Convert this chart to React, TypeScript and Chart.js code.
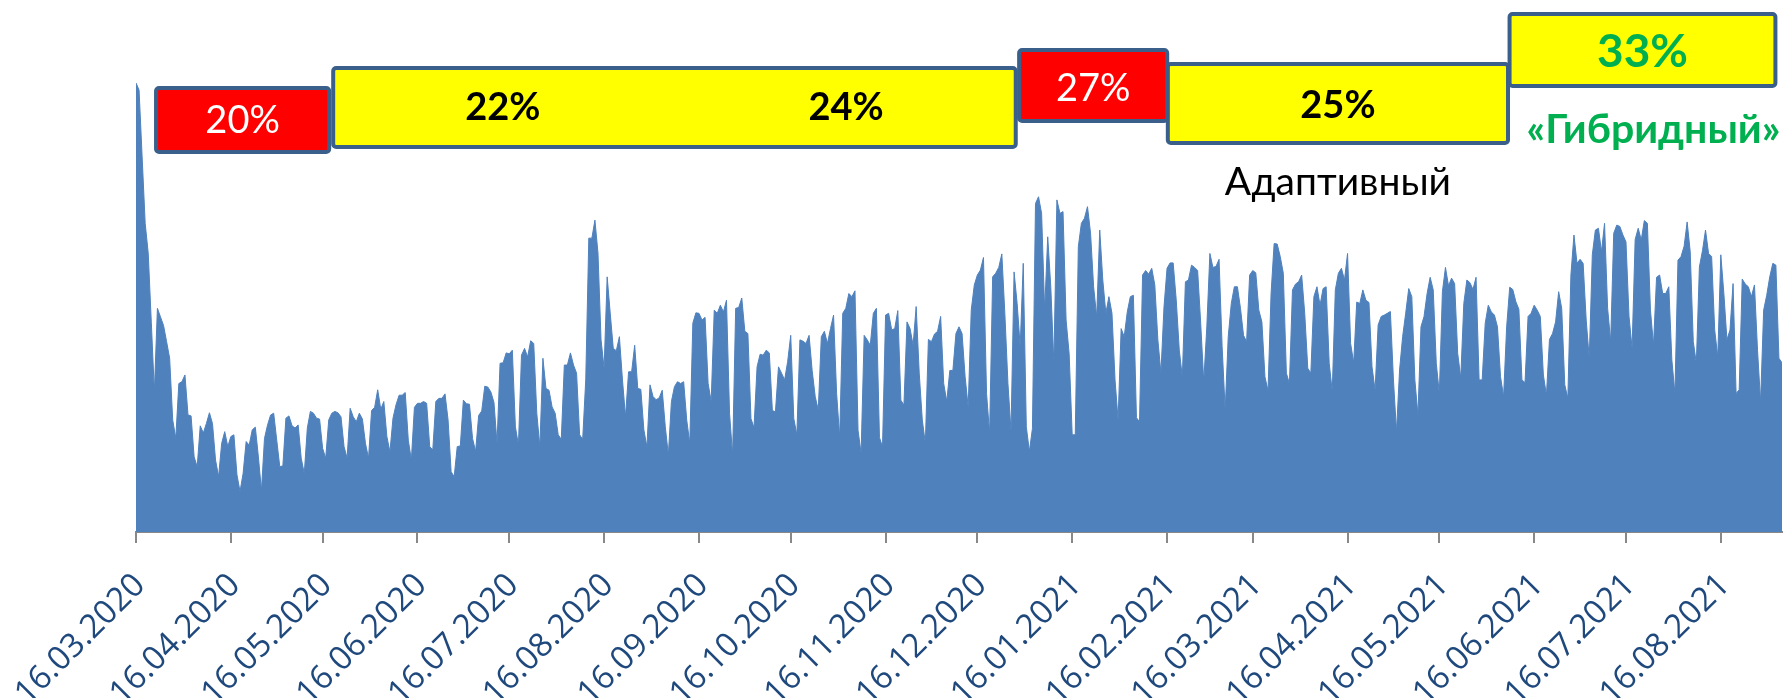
import { useEffect, useRef } from 'react';
import { Chart, registerables } from 'chart.js';

Chart.register(...registerables);

// Daily values, day 0 = 16.03.2020 (Monday); one row per week (Mon..Sun)
const dailyValues: number[] = [
  99.8, 98.2, 83.4, 68.6, 61.9, 46.6, 31.2,
  49.7, 47.8, 45.9, 42.3, 38.6, 24.9, 20.8,
  33.0, 33.4, 34.9, 26.0, 25.8, 16.7, 14.5,
  23.6, 22.0, 24.1, 26.5, 24.1, 16.0, 12.3,
  19.7, 22.3, 19.0, 21.2, 21.6, 12.7, 9.0,
  13.0, 20.1, 19.3, 22.7, 23.3, 16.7, 9.2,
  20.8, 23.8, 26.0, 26.4, 20.4, 14.5, 14.7,
  25.3, 25.8, 23.6, 23.1, 23.8, 16.4, 13.0,
  23.1, 26.8, 26.4, 25.3, 25.1, 18.6, 16.4,
  24.9, 26.4, 26.8, 26.5, 25.6, 19.0, 16.4,
  27.5, 25.6, 24.5, 26.4, 25.1, 19.7, 16.4,
  27.0, 27.7, 31.6, 27.3, 29.0, 21.2, 17.8,
  25.3, 28.3, 30.4, 30.4, 31.0, 20.4, 16.0,
  27.7, 28.6, 28.6, 29.0, 28.6, 19.0, 18.2,
  29.0, 29.7, 29.7, 30.7, 24.9, 13.4, 12.3,
  19.0, 19.1, 29.3, 28.5, 28.4, 20.8, 17.9,
  25.9, 26.9, 32.4, 32.2, 31.1, 28.8, 19.7,
  37.5, 37.6, 39.8, 39.6, 40.4, 23.4, 19.3,
  39.3, 40.8, 38.9, 42.5, 41.9, 26.4, 18.9,
  38.6, 31.9, 31.5, 27.8, 26.4, 21.6, 20.6,
  37.1, 37.1, 39.8, 37.1, 35.3, 21.6, 20.6,
  33.8, 65.3, 65.3, 69.3, 62.0, 42.7, 36.4,
  56.7, 48.6, 40.8, 40.3, 43.4, 33.8, 25.6,
  35.6, 35.6, 41.5, 31.9, 31.7, 22.7, 18.9,
  32.7, 30.1, 29.4, 29.8, 31.5, 23.4, 17.1,
  29.0, 32.3, 33.4, 33.0, 33.4, 24.9, 19.7,
  46.4, 48.7, 48.6, 47.1, 47.7, 33.0, 29.0,
  49.3, 48.6, 50.4, 48.9, 51.5, 26.4, 17.1,
  49.7, 49.9, 52.0, 44.6, 44.1, 25.2, 23.2,
  36.7, 39.5, 39.3, 40.4, 39.8, 27.0, 26.7,
  36.7, 35.3, 33.8, 37.9, 43.7, 25.2, 21.6,
  42.7, 42.4, 41.9, 43.7, 35.9, 30.1, 27.1,
  43.4, 44.6, 41.9, 45.2, 48.2, 30.8, 21.0,
  48.6, 49.7, 53.0, 52.3, 53.6, 22.6, 17.5,
  43.7, 42.7, 41.5, 48.6, 49.7, 21.0, 18.9,
  48.2, 48.6, 44.9, 45.2, 49.2, 29.3, 28.2,
  46.7, 45.2, 41.5, 50.1, 35.3, 24.9, 19.7,
  42.8, 42.3, 44.0, 44.6, 47.9, 33.0, 29.0,
  35.9, 35.9, 44.1, 45.6, 44.1, 34.5, 27.8,
  49.3, 54.9, 57.1, 58.2, 61.0, 30.8, 21.9,
  56.7, 57.5, 58.8, 61.8, 48.3, 33.0, 22.4,
  57.8, 50.8, 41.2, 59.7, 23.4, 17.9, 23.0,
  73.0, 74.5, 70.8, 49.3, 65.6, 54.5, 37.5,
  73.8, 70.8, 71.2, 47.1, 39.6, 21.6, 21.6,
  63.4, 68.6, 69.7, 72.3, 66.4, 54.5, 47.8,
  67.1, 56.0, 48.6, 52.3, 48.6, 33.8, 24.9,
  45.2, 43.4, 48.9, 52.3, 52.6, 25.4, 24.5,
  57.1, 58.1, 57.3, 58.6, 54.9, 42.7, 35.3,
  50.0, 58.6, 59.8, 59.8, 51.6, 40.4, 34.4,
  55.6, 56.0, 59.3, 58.8, 58.1, 46.4, 33.4,
  45.6, 61.9, 58.8, 59.0, 60.6, 41.2, 27.1,
  43.4, 50.8, 54.5, 54.5, 49.7, 43.7, 42.3,
  57.1, 58.1, 57.6, 49.3, 46.7, 34.5, 31.4,
  53.0, 64.1, 64.0, 61.2, 57.5, 35.3, 33.0,
  53.8, 55.1, 55.6, 57.1, 48.6, 36.4, 35.3,
  52.3, 54.5, 50.4, 54.1, 54.5, 37.5, 31.2,
  53.8, 57.5, 58.6, 56.0, 61.9, 41.9, 37.6,
  51.1, 50.8, 53.8, 51.5, 51.0, 36.7, 31.5,
  46.0, 47.9, 48.2, 48.6, 49.0, 33.8, 22.3,
  36.0, 43.4, 48.6, 54.1, 52.3, 33.8, 26.0,
  45.6, 47.9, 53.0, 56.6, 53.8, 37.5, 30.8,
  53.4, 58.8, 54.7, 56.4, 55.2, 39.7, 34.2,
  50.8, 56.0, 55.4, 53.9, 56.6, 33.8, 33.8,
  46.4, 50.4, 48.9, 48.2, 45.6, 34.5, 30.1,
  45.6, 54.4, 53.9, 51.2, 49.5, 33.8, 33.2,
  47.9, 48.6, 50.4, 49.3, 47.9, 34.9, 30.4,
  42.8, 44.1, 46.7, 53.4, 49.7, 32.7, 29.7,
  57.1, 66.0, 59.7, 60.6, 59.7, 47.1, 38.6,
  61.6, 67.1, 67.5, 62.3, 68.6, 49.7, 42.3,
  66.4, 68.2, 67.9, 66.0, 64.5, 47.9, 40.8,
  65.0, 67.5, 64.9, 69.2, 68.6, 49.3, 41.5,
  56.6, 57.1, 53.0, 53.0, 54.5, 38.2, 30.8,
  60.4, 61.2, 63.5, 68.9, 62.3, 42.3, 37.5,
  58.9, 62.5, 67.1, 61.9, 61.2, 44.9, 38.9,
  61.6, 53.0, 42.7, 44.9, 55.2, 30.8, 31.6,
  56.2, 55.1, 54.5, 52.3, 54.9, 40.4, 28.9,
  49.3, 52.6, 56.7, 59.7, 59.3, 38.6, 37.6,
];

// Monthly ticks (day index) and their labels
const tickDays = [0, 31, 61, 92, 122, 153, 184, 214, 245, 275, 306, 337, 365, 396, 426, 457, 487, 518];
const tickLabels = [
  '16.03.2020', '16.04.2020', '16.05.2020', '16.06.2020', '16.07.2020', '16.08.2020',
  '16.09.2020', '16.10.2020', '16.11.2020', '16.12.2020', '16.01.2021', '16.02.2021',
  '16.03.2021', '16.04.2021', '16.05.2021', '16.06.2021', '16.07.2021', '16.08.2021',
];

// Phase boxes (day ranges) and the shares written in them
const phaseStartDays = [5.9, 63.8, 288.0, 336.6, 448.3];
const phaseEndDays = [63.8, 288.2, 337.7, 449.1, 536.5];
const phaseShares = [['20%'], ['22%', '24%'], ['27%'], ['25%'], ['33%']];
const regimeLabels = ['Адаптивный', '«Гибридный»'];

const FONT = 'Lato, "Noto Sans", sans-serif';
const TICK_FONT = '"Open Sans", "Noto Sans", sans-serif';

const phaseStyles = [
  { top: 86, bottom: 154, fill: '#FF0000', color: '#FFFFFF', weight: 'normal', size: 38, textY: 121, fracs: [0.5] },
  { top: 66, bottom: 149, fill: '#FFFF00', color: '#000000', weight: 'bold', size: 38, textY: 108, fracs: [0.25, 0.75] },
  { top: 48, bottom: 123, fill: '#FF0000', color: '#FFFFFF', weight: 'normal', size: 38, textY: 89, fracs: [0.5] },
  { top: 62, bottom: 145, fill: '#FFFF00', color: '#000000', weight: 'bold', size: 38, textY: 106, fracs: [0.5] },
  { top: 12, bottom: 88, fill: '#FFFF00', color: '#00B050', weight: 'bold', size: 46, textY: 52, fracs: [0.5] },
];

const phasePlugin = {
  id: 'phaseBoxes',
  afterDraw(chart: any) {
    const ctx: CanvasRenderingContext2D = chart.ctx;
    const xs = chart.scales.x;
    ctx.save();
    const order = [0, 1, 3, 2, 4];
    order.forEach((i) => {
      const st = phaseStyles[i];
      const x0 = xs.getPixelForValue(phaseStartDays[i]);
      const x1 = xs.getPixelForValue(phaseEndDays[i]);
      ctx.beginPath();
      (ctx as any).roundRect(x0 + 2, st.top + 2, x1 - x0 - 4, st.bottom - st.top - 4, 3);
      ctx.fillStyle = st.fill;
      ctx.fill();
      ctx.lineWidth = 4;
      ctx.strokeStyle = '#3A5F8B';
      ctx.stroke();
    });
    phaseStyles.forEach((st, i) => {
      const x0 = xs.getPixelForValue(phaseStartDays[i]);
      const x1 = xs.getPixelForValue(phaseEndDays[i]);
      ctx.font = `${st.weight} ${st.size}px ${FONT}`;
      ctx.fillStyle = st.color;
      ctx.textAlign = 'center';
      ctx.textBaseline = 'middle';
      phaseShares[i].forEach((t, j) => ctx.fillText(t, x0 + (x1 - x0) * st.fracs[j], st.textY));
    });
    // regime captions
    const a0 = xs.getPixelForValue(phaseStartDays[3]);
    const a1 = xs.getPixelForValue(phaseEndDays[3]);
    ctx.font = `normal 39px ${FONT}`;
    ctx.fillStyle = '#000000';
    ctx.fillText(regimeLabels[0], (a0 + a1) / 2, 182);
    const g0 = xs.getPixelForValue(phaseStartDays[4]);
    const g1 = xs.getPixelForValue(phaseEndDays[4]);
    ctx.font = `bold 41px ${FONT}`;
    ctx.fillStyle = '#00B050';
    ctx.fillText(regimeLabels[1], (g0 + g1) / 2 + 11, 130);
    ctx.restore();
  },
};

export default function App() {
  const canvasRef = useRef<HTMLCanvasElement | null>(null);

  useEffect(() => {
    document.body.style.margin = '0';
    document.body.style.overflow = 'hidden';
    const canvas = canvasRef.current;
    if (!canvas) return;
    const chart = new Chart(canvas, {
      type: 'line',
      data: {
        datasets: [
          {
            data: dailyValues.map((v, i) => ({ x: i, y: v })),
            fill: 'origin',
            backgroundColor: '#4F81BD',
            borderColor: '#4F81BD',
            borderWidth: 1,
            pointRadius: 0,
            tension: 0,
          },
        ],
      },
      options: {
        responsive: false,
        animation: false,
        devicePixelRatio: 1,
        layout: { padding: { top: 82, left: 136, right: 2, bottom: 0 } },
        plugins: { legend: { display: false }, tooltip: { enabled: false } },
        scales: {
          x: {
            type: 'linear',
            min: 0,
            max: dailyValues.length - 1,
            grid: { drawOnChartArea: false, drawTicks: true, tickLength: 11, color: '#888888', lineWidth: 2 },
            border: { display: true, color: '#888888', width: 2 },
            ticks: {
              autoSkip: false,
              minRotation: 45,
              maxRotation: 45,
              padding: 23,
              labelOffset: 4,
              color: '#1F497D',
              font: { family: TICK_FONT, size: 33 },
              callback: (_v: any, idx: number) => tickLabels[idx],
            },
            afterBuildTicks: (scale: any) => {
              scale.ticks = tickDays.map((d) => ({ value: d }));
            },
            afterFit: (scale: any) => {
              scale.height = 166;
              scale.paddingLeft = 0;
              scale.paddingRight = 0;
            },
          },
          y: { display: false, min: 0, max: 100 },
        },
      },
      plugins: [phasePlugin],
    });
    return () => chart.destroy();
  }, []);

  return (
    <div style={{ width: 1784, height: 698 }}>
      <canvas ref={canvasRef} width={1784} height={698} style={{ display: 'block' }} />
    </div>
  );
}
